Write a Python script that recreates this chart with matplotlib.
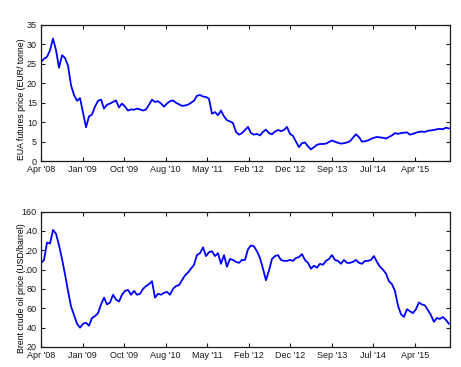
import numpy as np
import pandas as pd
import matplotlib
matplotlib.use("Agg")
import matplotlib.pyplot as plt

# sample dates (roughly every three weeks) and tick labels
dates = pd.date_range("2008-04-01", "2015-12-04", periods=137)
tick_labels = ["Apr '08", "Jan '09", "Oct '09", "Aug '10", "May '11",
               "Feb '12", "Dec '12", "Sep '13", "Jul '14", "Apr '15"]

# EUA futures price (EUR/tonne)
eua = [25.5, 26.3, 26.8, 28.5, 31.5, 28.5, 24.0, 27.2, 26.5, 24.5,
       19.5, 17.0, 15.5, 16.2, 12.5, 8.7, 11.5, 12.0, 14.0, 15.5,
       15.8, 13.5, 14.5, 14.8, 15.2, 15.6, 13.8, 14.8, 14.0, 13.0,
       13.3, 13.2, 13.5, 13.3, 13.0, 13.3, 14.5, 15.8, 15.2, 15.4,
       14.8, 14.0, 14.8, 15.4, 15.6, 15.0, 14.6, 14.2, 14.3, 14.5,
       15.0, 15.5, 16.8, 17.0, 16.6, 16.5, 16.0, 12.2, 12.6, 11.8,
       13.0, 11.5, 10.5, 10.2, 9.8, 7.5, 6.8, 7.2, 8.0, 8.8,
       7.2, 6.8, 7.0, 6.6, 7.5, 8.1, 7.2, 6.9, 7.6, 8.0,
       7.7, 8.0, 8.8, 7.0, 6.5, 5.0, 3.6, 4.6, 4.8, 3.8,
       3.0, 3.6, 4.2, 4.4, 4.4, 4.5, 4.9, 5.3, 5.0, 4.7,
       4.5, 4.6, 4.8, 5.1, 6.0, 6.9, 6.2, 5.0, 5.1, 5.3,
       5.7, 6.0, 6.2, 6.1, 6.0, 5.8, 6.2, 6.6, 7.2, 7.0,
       7.2, 7.3, 7.4, 6.8, 7.0, 7.3, 7.5, 7.6, 7.5, 7.8,
       7.9, 8.0, 8.2, 8.3, 8.2, 8.6, 8.4]

# Brent crude oil price (USD/barrel)
brent = [107, 110, 128, 127, 141, 137, 125, 111, 95, 78,
         62, 53, 44, 40, 44, 45, 42, 50, 52, 55,
         64, 71, 64, 66, 74, 69, 67, 74, 78, 79,
         74, 78, 74, 75, 80, 83, 85, 88, 71, 75,
         74, 76, 77, 74, 80, 83, 84, 89, 94, 97,
         101, 105, 115, 117, 123, 114, 118, 119, 114, 117,
         106, 115, 103, 111, 110, 108, 107, 110, 110, 121,
         125, 124, 119, 112, 101, 89, 99, 111, 114, 115,
         110, 109, 109, 110, 109, 112, 113, 116, 110, 107,
         101, 104, 102, 106, 105, 109, 111, 115, 110, 109,
         106, 110, 107, 107, 108, 110, 107, 106, 109, 109,
         110, 114, 108, 103, 100, 96, 88, 85, 78, 63,
         54, 51, 59, 57, 55, 59, 66, 64, 63, 58,
         53, 46, 50, 49, 51, 48, 44]

plt.rcParams["font.family"] = "Liberation Sans"
plt.rcParams["font.size"] = 6.5

fig = plt.figure(figsize=(4.61, 3.67), dpi=100)
ax1 = fig.add_axes([0.089, 0.561, 0.887, 0.371])
ax2 = fig.add_axes([0.089, 0.0545, 0.887, 0.369])

ticks = pd.date_range("2008-04-01", periods=10, freq=pd.Timedelta(days=285.5))
xmax = pd.Timestamp("2015-12-11")

panels = [
    (ax1, eua, np.arange(0, 36, 5), (0, 35), "EUA futures price (EUR/ tonne)", 0.456),
    (ax2, brent, np.arange(20, 161, 20), (20, 160), "Brent crude oil price (USD/barrel)", 0.436),
]
for ax, vals, yt, ylim, lab, ly in panels:
    ax.plot(dates, vals, color="#0000ff", linewidth=1.3)
    ax.set_xlim(dates[0], xmax)
    ax.set_ylim(*ylim)
    ax.set_yticks(yt)
    ax.set_xticks(ticks)
    ax.set_xticklabels(tick_labels)
    ax.tick_params(direction="in", length=3, width=0.8, top=True, right=True,
                   colors="#1a1a1a", pad=3)
    for s in ax.spines.values():
        s.set_linewidth(0.9)
        s.set_color("#1a1a1a")
    ax.set_ylabel(lab, fontsize=6.3,
                  bbox=dict(facecolor="white", edgecolor="none", pad=0))
    ax.yaxis.set_label_coords(-0.037, ly)

fig.savefig("out.png", dpi=100)
